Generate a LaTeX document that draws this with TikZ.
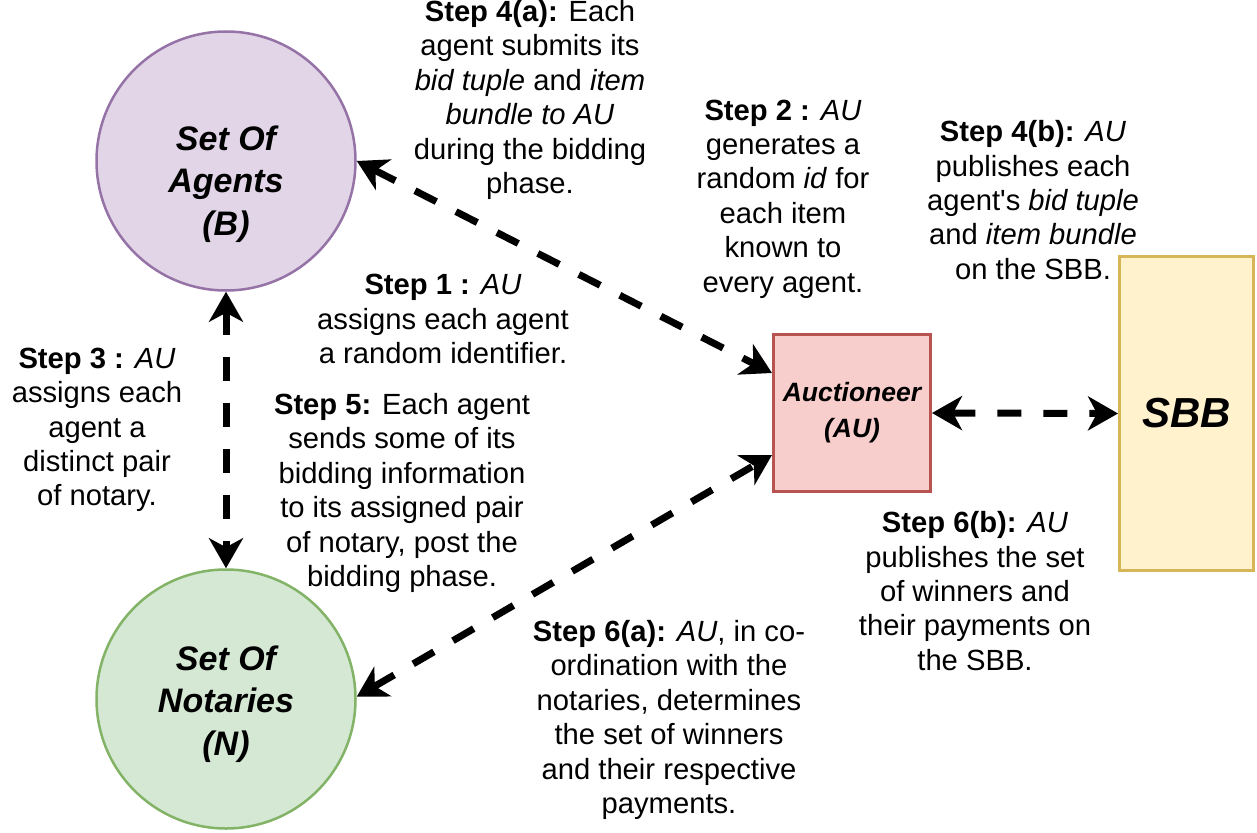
\documentclass[tikz,border=0pt]{standalone}
\usepackage{fontspec}
\setmainfont{Liberation Sans}[Ligatures=TeXOff]
\usetikzlibrary{arrows.meta}
\definecolor{agfill}{HTML}{E1D5E7}
\definecolor{agdraw}{HTML}{9673A6}
\definecolor{nofill}{HTML}{D5E8D4}
\definecolor{nodraw}{HTML}{82B366}
\definecolor{aufill}{HTML}{F8CECC}
\definecolor{audraw}{HTML}{B85450}
\definecolor{sbfill}{HTML}{FFF2CC}
\definecolor{sbdraw}{HTML}{D6B656}
\tikzset{
  txt/.style={align=center, inner sep=0pt, font=\fontsize{29.2}{34.4}\selectfont},
  circ/.style={circle, minimum size=259pt, line width=2.5pt, inner sep=0pt},
  circtxt/.style={align=center, inner sep=0pt, font=\fontsize{34}{42.5}\selectfont\bfseries\itshape},
  link/.style={line width=7pt, dash pattern=on 24pt off 22pt,
     {Stealth[length=30pt,width=34pt,inset=9pt]}-{Stealth[length=30pt,width=34pt,inset=9pt]}}
}
\begin{document}
\begin{tikzpicture}[x=1pt,y=-1pt]
\useasboundingbox (0,0) rectangle (1257,832);
\node[circ, fill=agfill, draw=agdraw] (agents) at (226,161) {};
\node[circtxt] (agentslbl) at (226,184) {Set Of\\Agents\\(B)};
\node[circ, fill=nofill, draw=nodraw] (notaries) at (226,699) {};
\node[circtxt] (notarieslbl) at (226,704) {Set Of\\Notaries\\(N)};
\node[draw=audraw, fill=aufill, line width=3pt, minimum width=157pt, minimum height=157pt,
  align=center, inner sep=0pt, font=\fontsize{26.5}{36}\selectfont\bfseries\itshape] (au) at (852,413) {Auctioneer\\(AU)};
\node[draw=sbdraw, fill=sbfill, line width=3pt, minimum width=134pt, minimum height=314pt,
  inner sep=0pt, font=\fontsize{42}{48}\selectfont\bfseries\itshape] (sbb) at (1186.5,413.5) {SBB};

\draw[link] (agents.east) -- ([yshift=40pt]au.west);
\draw[link] (agents.south) -- (notaries.north);
\draw[link] (notaries.1) -- ([yshift=-42pt]au.west);
\draw[link] (au.east) -- (sbb.west);

\node[txt] (s4a) at (530,100) {\textbf{Step 4(a):} Each\\agent submits its\\\textit{bid tuple} and \textit{item}\\\textit{bundle to AU}\\during the bidding\\phase.};
\node[txt] (s2) at (783,199) {\textbf{Step 2 :} \textit{AU}\\generates a\\random \textit{id} for\\each item\\known to\\every agent.};
\node[txt] (s4b) at (1033,200) {\textbf{Step 4(b):} \textit{AU}\\publishes each\\agent's \textit{bid tuple}\\and \textit{item bundle}\\on the SBB.};
\node[txt] (s1) at (443,319) {\textbf{Step 1 :} \textit{AU}\\assigns each agent\\a random identifier.};
\node[txt] (s3) at (97,430) {\textbf{Step 3 :} \textit{AU}\\assigns each\\agent a\\distinct pair\\of notary.};
\node[txt] (s5) at (402,493) {\textbf{Step 5:} Each agent\\sends some of its\\bidding information\\to its assigned pair\\of notary, post the\\bidding phase.};
\node[txt] (s6a) at (669,720) {\textbf{Step 6(a):} \textit{AU}, in co-\\ordination with the\\notaries, determines\\the set of winners\\and their respective\\payments.};
\node[txt] (s6b) at (975,591) {\textbf{Step 6(b):} \textit{AU}\\publishes the set\\of winners and\\their payments on\\the SBB.};
\end{tikzpicture}
\end{document}
